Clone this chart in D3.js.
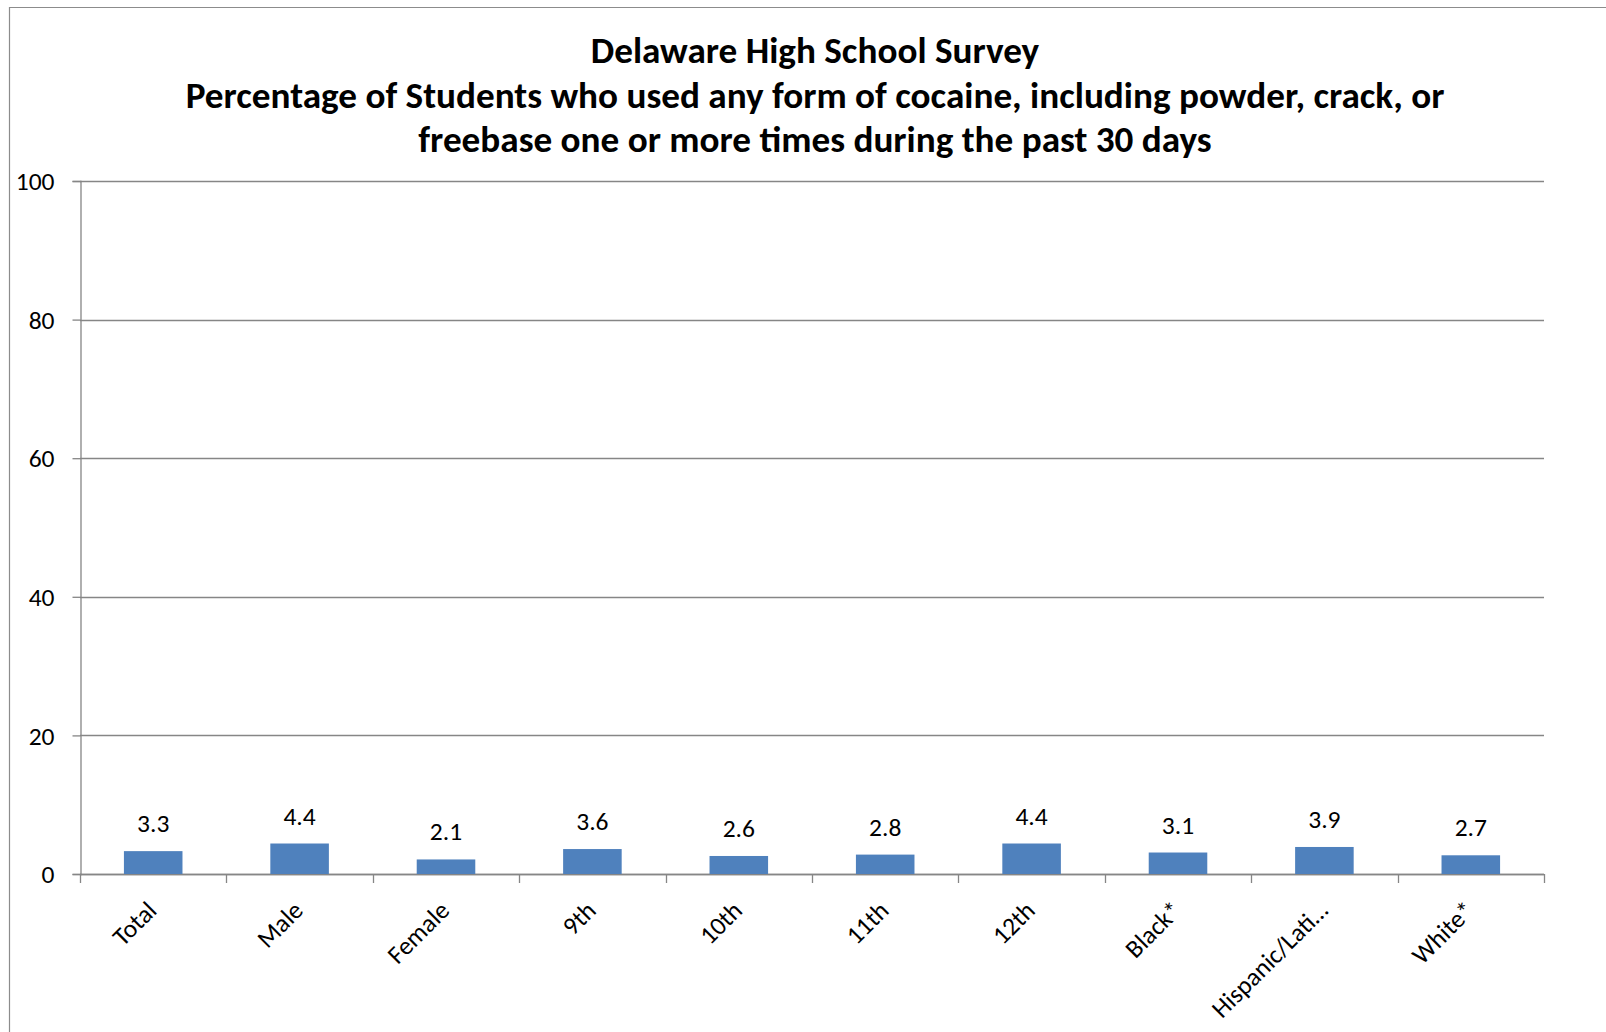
<!DOCTYPE html>
<html>
<head>
<meta charset="utf-8">
<script src="https://cdn.jsdelivr.net/npm/d3@7"></script>
<style>
  html, body { margin: 0; padding: 0; background: #fff; }
  svg { display: block; }
  text { font-family: Carlito, Calibri, Lato, "Open Sans", sans-serif; fill: #000; }
</style>
</head>
<body>
<svg id="chart" width="1606" height="1032"></svg>
<script>
const categories = ["Total", "Male", "Female", "9th", "10th", "11th", "12th", "Black*", "Hispanic/Lati…", "White*"];
const values = [3.3, 4.4, 2.1, 3.6, 2.6, 2.8, 4.4, 3.1, 3.9, 2.7];
const yTicks = [0, 20, 40, 60, 80, 100];
const titleLines = [
  "Delaware High School Survey",
  "Percentage of Students who used any form of cocaine, including powder, crack, or",
  "freebase one or more times during the past 30 days"
];

const svg = d3.select("#chart");
const W = 1606, H = 1032;
const plot = { left: 80, right: 1544, top: 181, bottom: 874 };
const gridColor = "#868686";

// outer chart border (left and top visible)
svg.append("path")
  .attr("d", `M9.5,${H} L9.5,7.5 L${W},7.5`)
  .attr("fill", "none")
  .attr("stroke", "#8c8c8c")
  .attr("stroke-width", 1.2);

const x = d3.scaleBand()
  .domain(categories)
  .range([plot.left, plot.right])
  .paddingInner(0.6)
  .paddingOuter(0.3);

const xEdge = d3.scaleLinear().domain([0, categories.length]).range([plot.left, plot.right]);

const y = d3.scaleLinear().domain([0, 100]).range([plot.bottom, plot.top]);

// gridlines
svg.append("g").selectAll("line")
  .data(yTicks)
  .join("line")
  .attr("x1", plot.left).attr("x2", plot.right)
  .attr("y1", d => Math.round(y(d)) + 0.5).attr("y2", d => Math.round(y(d)) + 0.5)
  .attr("stroke", gridColor).attr("stroke-width", 1.3);

// y axis
const yAxis = d3.axisLeft(y).tickValues(yTicks).tickSize(8).tickPadding(18).tickFormat(d3.format("d"));
const gy = svg.append("g").attr("transform", `translate(${plot.left + 0.5},0)`).call(yAxis);
gy.select(".domain").attr("stroke", gridColor).attr("stroke-width", 1.3);
gy.selectAll(".tick line").attr("stroke", gridColor).attr("stroke-width", 1.3);
gy.selectAll(".tick text").attr("font-size", 25.5).attr("font-family", null).attr("dy", "0.34em");

// x axis line and boundary ticks
svg.append("line")
  .attr("x1", plot.left).attr("x2", plot.right)
  .attr("y1", plot.bottom + 0.5).attr("y2", plot.bottom + 0.5)
  .attr("stroke", gridColor).attr("stroke-width", 1.6);
svg.append("g").selectAll("line")
  .data(d3.range(categories.length + 1))
  .join("line")
  .attr("x1", d => Math.round(xEdge(d)) + 0.5).attr("x2", d => Math.round(xEdge(d)) + 0.5)
  .attr("y1", plot.bottom).attr("y2", plot.bottom + 9)
  .attr("stroke", gridColor).attr("stroke-width", 1.3);

// bars
svg.append("g").selectAll("rect")
  .data(values)
  .join("rect")
  .attr("x", (d, i) => x(categories[i]))
  .attr("width", x.bandwidth())
  .attr("y", d => y(d))
  .attr("height", d => y(0) - y(d))
  .attr("fill", "#4f81bd");

// data labels
svg.append("g").selectAll("text")
  .data(values)
  .join("text")
  .attr("x", (d, i) => x(categories[i]) + x.bandwidth() / 2)
  .attr("y", d => y(d) - 19)
  .attr("text-anchor", "middle")
  .attr("font-size", 25.5)
  .text(d => d3.format(".1f")(d));

// category labels
svg.append("g").selectAll("text")
  .data(categories)
  .join("text")
  .attr("transform", d => `translate(${x(d) + x.bandwidth() / 2 + 5},${plot.bottom + 38}) rotate(-45)`)
  .attr("text-anchor", "end")
  .attr("font-size", 25.5)
  .text(d => d);

// title
const title = svg.append("g").selectAll("text")
  .data(titleLines)
  .join("text")
  .attr("x", 815)
  .attr("y", (d, i) => 63 + i * 44.5)
  .attr("text-anchor", "middle")
  .attr("font-weight", "bold")
  .attr("font-size", 34)
  .text(d => d);

// fit title font to reference width of widest line
const node = title.nodes()[1];
const len = node.getComputedTextLength();
const target = 1259;
title.attr("font-size", 34 * target / len);
</script>
</body>
</html>
